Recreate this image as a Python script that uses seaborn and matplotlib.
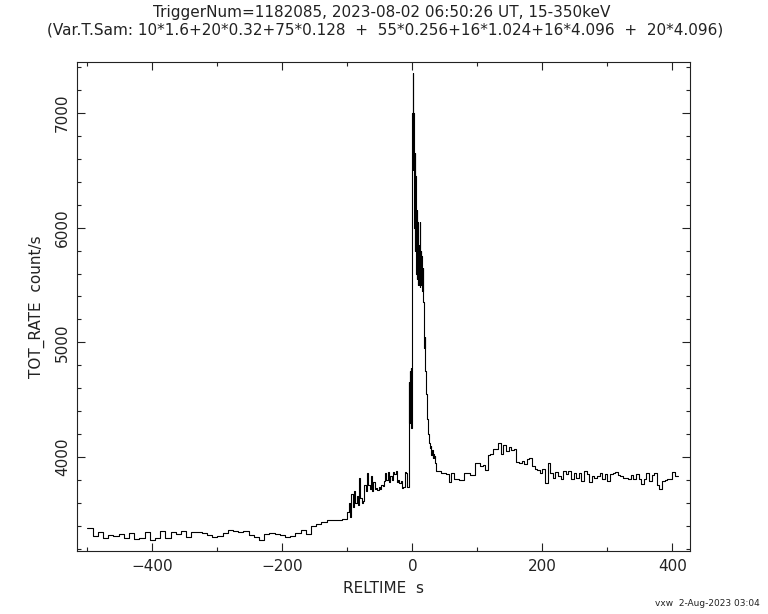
import numpy as np
import pandas as pd
import matplotlib
matplotlib.use("Agg")
import matplotlib.pyplot as plt
from matplotlib.ticker import MultipleLocator
import seaborn as sns

# ---------------- data ----------------
title_line1 = "TriggerNum=1182085, 2023-08-02 06:50:26 UT, 15-350keV"
title_line2 = "(Var.T.Sam: 10*1.6+20*0.32+75*0.128  +  55*0.256+16*1.024+16*4.096  +  20*4.096)"
x_label = "RELTIME  s"
y_label = "TOT_RATE  count/s"
footer = "vxw  2-Aug-2023 03:04"

start_time = -500.0
# bin width (s) of each sampling segment
seg_widths = [8.0, 2.0, 0.5, 1.0, 4.0]

# -500 .. -100 s, 8 s bins
rates_pre = [3377, 3313, 3348, 3296, 3318, 3312, 3325, 3290, 3333, 3281,
             3296, 3348, 3275, 3290, 3354, 3296, 3348, 3330, 3354, 3301,
             3342, 3348, 3336, 3319, 3304, 3313, 3333, 3359, 3354, 3348,
             3354, 3319, 3301, 3275, 3325, 3336, 3328, 3319, 3302, 3313,
             3336, 3365, 3328, 3400, 3415, 3435, 3450, 3452, 3452, 3455]
# -100 .. -6 s, 2 s bins
rates_rise = [3520, 3600, 3480, 3680, 3560, 3700, 3600, 3660, 3580, 3820,
              3640, 3600, 3620, 3760, 3700, 3860, 3760, 3720, 3830, 3700,
              3780, 3720, 3730, 3710, 3740, 3720, 3760, 3750, 3790, 3860,
              3800, 3870, 3780, 3830, 3800, 3870, 3850, 3880, 3780, 3800,
              3770, 3790, 3730, 3740, 3870, 3860, 3740]
# -6 .. 20 s, 0.5 s bins
rates_peak = [3980, 4650, 4300, 4750, 4400, 4700, 4420, 4780, 4450, 4250,
              6000, 6600, 7000, 7350, 6500, 7000, 6200, 6800, 6000, 6650,
              5800, 6450, 5650, 6300, 5600, 6150, 5550, 6050, 5500, 5950,
              5600, 5850, 5500, 5800, 5480, 6050, 5550, 5800, 5500, 5750,
              5450, 5700, 5450, 5650, 5400, 5600, 5350, 5100, 5250, 4950,
              5050, 4820]
# 20 .. 36 s, 1 s bins
rates_decay = [4750, 4550, 4400, 4330, 4200, 4170, 4120, 4080, 4100, 4020,
               4060, 3990, 4030, 3990, 4010, 3950]
# 36 .. 408 s, 4 s bins
rates_tail = [3878, 3878, 3864, 3864, 3850, 3783, 3858, 3812, 3806, 3797,
              3797, 3858, 3858, 3840, 3840, 3945, 3945, 3922, 3928, 3887,
              4015, 4023, 4072, 4067, 4125, 4023, 4102, 4052, 4090, 4060,
              4073, 3957, 3951, 3965, 3936, 3980, 3994, 3922, 3893, 3887,
              3864, 3893, 3777, 3951, 3864, 3820, 3870, 3835, 3812, 3878,
              3850, 3878, 3812, 3858, 3820, 3864, 3791, 3878, 3850, 3783,
              3830, 3820, 3835, 3858, 3812, 3850, 3791, 3850, 3858, 3870,
              3841, 3835, 3820, 3820, 3812, 3841, 3806, 3850, 3806, 3763,
              3812, 3858, 3791, 3841, 3858, 3754, 3725, 3791, 3800, 3812,
              3806, 3870, 3835]

segments = [rates_pre, rates_rise, rates_peak, rates_decay, rates_tail]

# ---------------- build step table ----------------
edges = []
values = []
t = start_time
for w, vals in zip(seg_widths, segments):
    for v in vals:
        edges.append(t)
        values.append(v)
        t += w
edges.append(t)
values.append(values[-1])
df = pd.DataFrame({"RELTIME": edges, "TOT_RATE": values})

# ---------------- plot ----------------
sns.set_style("ticks")
plt.rcParams["font.family"] = ["DejaVu Sans"]
plt.rcParams["axes.unicode_minus"] = True

fig = plt.figure(figsize=(7.68, 6.14), dpi=100)
ax = fig.add_axes([77 / 768, 1 - 551 / 614, (690 - 77) / 768, (551 - 62) / 614])

sns.lineplot(data=df, x="RELTIME", y="TOT_RATE", ax=ax, estimator=None,
             sort=False, drawstyle="steps-post", color="black", linewidth=0.8)

ax.set_xlim(-516, 427)
ax.set_ylim(3180, 7445)
ax.xaxis.set_major_locator(MultipleLocator(200))
ax.xaxis.set_minor_locator(MultipleLocator(100))
ax.yaxis.set_major_locator(MultipleLocator(1000))
ax.yaxis.set_minor_locator(MultipleLocator(200))
ax.tick_params(which="both", direction="in", top=True, right=True,
               color="#222222", width=0.8)
ax.tick_params(which="major", length=5.5)
ax.tick_params(which="minor", length=3)
ax.tick_params(axis="x", labelsize=11, pad=5.5, labelcolor="#222222")
ax.tick_params(axis="y", labelsize=11, pad=5, labelcolor="#222222")
for lab in ax.get_yticklabels():
    lab.set_rotation(90)
    lab.set_va("center")
for s in ax.spines.values():
    s.set_linewidth(0.8)
    s.set_color("#222222")

ax.set_xlabel(x_label, fontsize=11, color="#222222", labelpad=5)
ax.set_ylabel(y_label, fontsize=11, color="#222222", labelpad=7)

fig.text(0.497, 1 - 12 / 614, title_line1, ha="center", va="center",
         fontsize=11, color="#222222")
fig.text(0.502, 1 - 30 / 614, title_line2, ha="center", va="center",
         fontsize=11, color="#222222")
fig.text(760 / 768, 1 - 604 / 614, footer, ha="right", va="center",
         fontsize=6.5, color="#222222")

fig.savefig("out.png", dpi=100)
